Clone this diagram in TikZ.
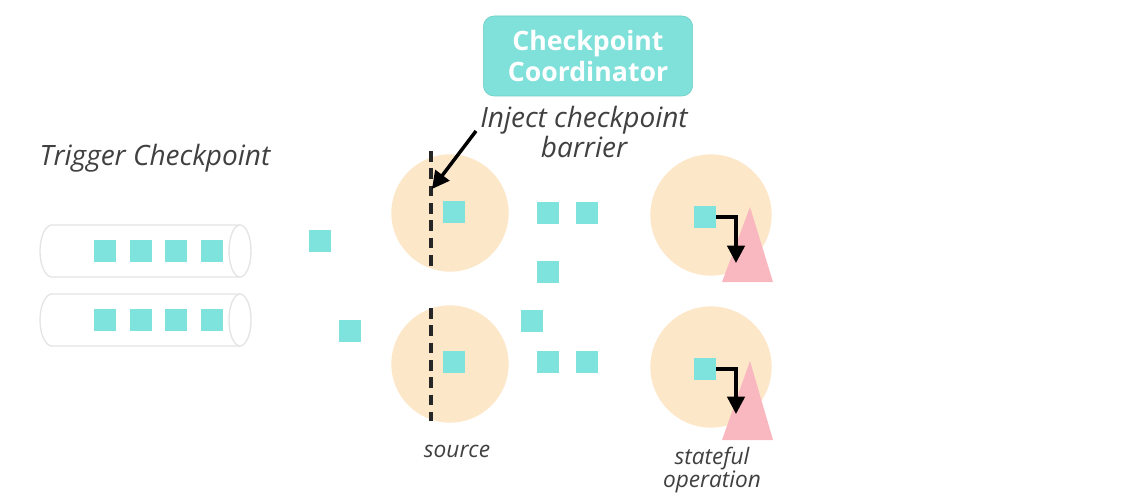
\documentclass[tikz,border=0pt]{standalone}
\usepackage{fontspec}
\setmainfont{Open Sans}
\usetikzlibrary{arrows.meta}
\definecolor{teal1}{HTML}{7EE3DC}
\definecolor{boxfill}{HTML}{80E0DA}
\definecolor{boxline}{HTML}{6CCBC6}
\definecolor{peach}{HTML}{FDE7C9}
\definecolor{pinkt}{HTML}{F9B8C0}
\definecolor{pipe}{HTML}{E4E4E4}
\definecolor{txt}{HTML}{404040}
\begin{document}
\begin{tikzpicture}[x=0.75pt,y=-0.75pt,
  sq/.style={fill=teal1,draw=none,minimum size=16.5pt,inner sep=0pt},
  proc/.style={circle,fill=peach,draw=none,inner sep=0pt},
  lbl/.style={font=\itshape,text=txt},
  pipeline/.style={draw=pipe,line width=1pt},
  barrier/.style={line width=2.8pt,dash pattern=on 8pt off 5pt,draw=black!85},
  arr/.style={line width=2.6pt,-{Triangle[length=13pt,width=13pt]}}]
\useasboundingbox (0,0) rectangle (1123,499);
% coordinator
\node[draw=boxline,fill=boxfill,rounded corners=8pt,minimum width=157pt,minimum height=60pt,
  text=white,font=\fontsize{20}{23}\selectfont\bfseries,align=center] (coord) at (588,56) {Checkpoint\\Coordinator};
% labels
\node[lbl,font=\fontsize{21}{25}\selectfont\itshape] (trig) at (155,158) {Trigger Checkpoint};
\node[lbl,font=\fontsize{21}{23}\selectfont\itshape,align=center] (inj) at (584,132) {Inject checkpoint\\barrier};
\node[lbl,font=\fontsize{17}{19}\selectfont\itshape] (src) at (457,451) {source};
\node[lbl,font=\fontsize{17}{17}\selectfont\itshape,align=center] (stf) at (712,470) {stateful\\operation};
% pipes
\foreach \n/\y in {p1/251,p2/320}{
  \draw[pipeline] (240,\y-26) -- (52,\y-26) arc[start angle=270,end angle=90,x radius=12,y radius=26] -- (240,\y+26);
  \draw[pipeline] (240,\y) ellipse[x radius=11,y radius=26];
  \coordinate (\n) at (240,\y);
}
\foreach \x [count=\i] in {105,141,176,212}{
  \node[sq] (a\i) at (\x,251) {};
  \node[sq] (b\i) at (\x,320) {};
}
% loose records
\node[sq] (l1) at (320,241) {};
\node[sq] (l2) at (350,331) {};
% sources
\node[proc,minimum size=88pt] (s1) at (450,213) {};
\node[proc,minimum size=88pt] (s2) at (450,364) {};
\draw[barrier] (431,151) -- (431,270);
\draw[barrier] (431,308) -- (431,421);
\node[sq] (s1r) at (454,212) {};
\node[sq] (s2r) at (454,362) {};
% in-flight
\node[sq] (m1) at (548,213) {};
\node[sq] (m2) at (587,213) {};
\node[sq] (m3) at (548,272) {};
\node[sq] (m4) at (532,321) {};
\node[sq] (m5) at (548,362) {};
\node[sq] (m6) at (587,362) {};
% stateful ops
\node[proc,minimum size=91pt] (o1) at (711,215) {};
\node[proc,minimum size=91pt] (o2) at (711,367) {};
\fill[pinkt] (750,207) -- (773,282) -- (722,282) -- cycle;
\fill[pinkt] (750,361) -- (773,440) -- (722,440) -- cycle;
\node[sq] (o1r) at (705,217) {};
\node[sq] (o2r) at (705,369) {};
\coordinate (t1) at (736,263);
\coordinate (t2) at (736,414);
\draw[arr] (o1r.east) -| (t1);
\draw[arr] (o2r.east) -| (t2);
% inject arrow
\coordinate (inj-end) at (432,189);
\draw[arr] (476,131) -- (inj-end);
\end{tikzpicture}
\end{document}
